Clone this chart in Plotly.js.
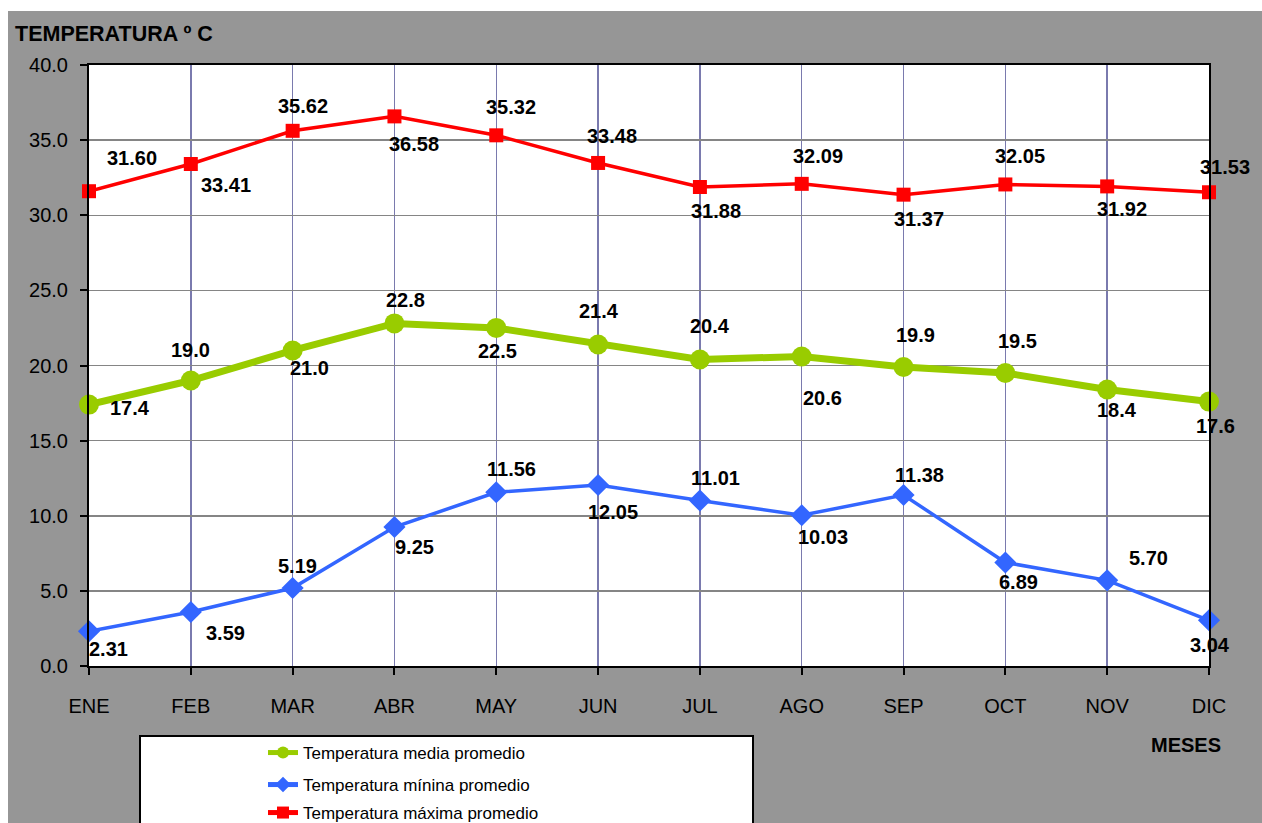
<!DOCTYPE html>
<html>
<head>
<meta charset="utf-8">
<script src="https://cdn.plot.ly/plotly-3.0.1.min.js"></script>
<style>
  html, body { margin: 0; padding: 0; background: #ffffff; overflow: hidden; }
  #chart { position: absolute; left: 8px; top: 11px; width: 1254px; height: 812px; }
</style>
</head>
<body>
<div id="chart"></div>
<script>
// Monthly temperature series (°C)
const meses = ['ENE', 'FEB', 'MAR', 'ABR', 'MAY', 'JUN', 'JUL', 'AGO', 'SEP', 'OCT', 'NOV', 'DIC'];
const tempMedia  = [17.4, 19.0, 21.0, 22.8, 22.5, 21.4, 20.4, 20.6, 19.9, 19.5, 18.4, 17.6];
const tempMinima = [2.31, 3.59, 5.19, 9.25, 11.56, 12.05, 11.01, 10.03, 11.38, 6.89, 5.70, 3.04];
const tempMaxima = [31.60, 33.41, 35.62, 36.58, 35.32, 33.48, 31.88, 32.09, 31.37, 32.05, 31.92, 31.53];

const nombres = ['Temperatura media promedio', 'Temperatura mínina promedio', 'Temperatura máxima promedio'];
const yTicks = [0, 5, 10, 15, 20, 25, 30, 35, 40];

// Pixel offsets of each value label from its point (right, down)
const offMedia  = [[41, 3], [0, -31], [17, 18], [11, -23], [1, 23], [1, -33], [10, -33], [21, 42], [12, -32], [12, -32], [10, 20], [6, 24]];
const offMinima = [[19, 18], [35, 21], [5, -22], [20, 20], [15, -23], [15, 27], [16, -23], [21, 22], [16, -20], [13, 20], [41, -22], [1, 25]];
const offMaxima = [[43, -33], [35, 21], [10, -25], [20, 28], [15, -28], [14, -27], [16, 24], [16, -28], [15, 24], [15, -28], [15, 23], [16, -25]];

const FONT = 'Liberation Sans, Arial, sans-serif';
const W = 1254, H = 812;

const traces = [
  {
    x: meses, y: tempMedia, name: nombres[0], type: 'scatter', mode: 'lines+markers',
    line: { color: '#99cc00', width: 7 },
    marker: { symbol: 'circle', size: 20, color: '#99cc00' },
    cliponaxis: false, legend: 'legend'
  },
  {
    x: meses, y: tempMinima, name: nombres[1], type: 'scatter', mode: 'lines+markers',
    line: { color: '#3366ff', width: 3.5 },
    marker: { symbol: 'diamond', size: 17, color: '#3366ff' },
    cliponaxis: false, legend: 'legend2'
  },
  {
    x: meses, y: tempMaxima, name: nombres[2], type: 'scatter', mode: 'lines+markers',
    line: { color: '#ff0000', width: 3.5 },
    marker: { symbol: 'square', size: 14, color: '#ff0000' },
    cliponaxis: false, legend: 'legend3'
  }
];

function etiquetas(vals, offs, dec) {
  return vals.map((v, i) => ({
    x: meses[i], y: v, xref: 'x', yref: 'y',
    text: v.toFixed(dec), showarrow: false,
    xshift: offs[i][0], yshift: -offs[i][1],
    font: { family: FONT, size: 20, color: '#000000', weight: 'bold' }
  }));
}

const annotations = []
  .concat(etiquetas(tempMaxima, offMaxima, 2))
  .concat(etiquetas(tempMedia, offMedia, 1))
  .concat(etiquetas(tempMinima, offMinima, 2));

annotations.push({
  xref: 'paper', yref: 'paper', x: 0.9795, y: -0.1314,
  xanchor: 'center', yanchor: 'middle', showarrow: false,
  text: '<b>MESES</b>',
  font: { family: FONT, size: 20, color: '#000000' }
});

const legendBase = {
  xref: 'container', yref: 'container', x: 255 / W, xanchor: 'left', yanchor: 'middle',
  bgcolor: 'rgba(0,0,0,0)', borderwidth: 0, itemsizing: 'constant',
  font: { family: FONT, size: 17, color: '#000000' }
};

const layout = {
  width: W, height: H,
  paper_bgcolor: '#969696',
  plot_bgcolor: '#ffffff',
  margin: { l: 81, r: 53, t: 54, b: 157, autoexpand: false },
  font: { family: FONT, color: '#000000' },
  title: {
    text: '<b>TEMPERATURA º C</b>',
    xref: 'container', yref: 'container',
    x: 7 / W, xanchor: 'left',
    y: 1 - 22 / H, yanchor: 'middle',
    font: { family: FONT, size: 21.5, color: '#000000' }
  },
  xaxis: {
    type: 'category', range: [0, 11],
    showgrid: true, gridcolor: '#7a7aae', gridwidth: 1.5,
    showline: true, linecolor: '#000000', linewidth: 2, mirror: true,
    ticks: 'outside', ticklen: 7, tickwidth: 2, tickcolor: '#000000',
    ticklabelstandoff: 14,
    tickfont: { family: FONT, size: 20, color: '#000000' },
    zeroline: false, fixedrange: true, automargin: false
  },
  yaxis: {
    range: [0, 40], tickvals: yTicks, tickformat: '.1f',
    showgrid: true, gridcolor: '#858585', gridwidth: 1.5,
    showline: true, linecolor: '#000000', linewidth: 2, mirror: true,
    ticks: 'outside', ticklen: 7, tickwidth: 2, tickcolor: '#000000',
    ticklabelstandoff: 8,
    tickfont: { family: FONT, size: 20, color: '#000000' },
    zeroline: false, fixedrange: true, automargin: false
  },
  showlegend: true,
  legend:  Object.assign({}, legendBase, { y: 1 - 742 / H }),
  legend2: Object.assign({}, legendBase, { y: 1 - 774 / H }),
  legend3: Object.assign({}, legendBase, { y: 1 - 802 / H }),
  shapes: [{
    type: 'rect', xref: 'paper', yref: 'paper',
    x0: (132 - 81) / 1120, x1: (745 - 81) / 1120,
    y0: (655 - 725) / 601, y1: -0.4,
    fillcolor: '#ffffff', line: { color: '#000000', width: 2 }, layer: 'above'
  }],
  annotations: annotations
};

Plotly.newPlot('chart', traces, layout, { displayModeBar: false, staticPlot: true });
</script>
</body>
</html>
